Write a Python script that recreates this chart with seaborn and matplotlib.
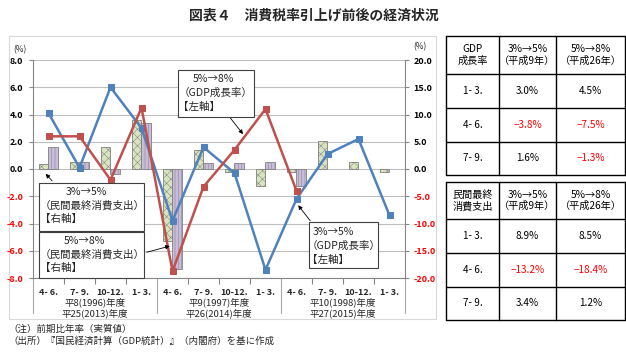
import numpy as np
import pandas as pd
import matplotlib
matplotlib.use("Agg")
import matplotlib.pyplot as plt
import seaborn as sns
from matplotlib.patches import Rectangle
from matplotlib.lines import Line2D
import matplotlib.transforms as mtransforms

# ---------------- data ----------------
quarters = ["4- 6.", "7- 9.", "10-12.", "1- 3."] * 3
group_top = ["平8(1996)年度", "平9(1997)年度", "平10(1998)年度"]
group_bottom = ["平25(2013)年度", "平26(2014)年度", "平27(2015)年度"]

# GDP growth (left axis, %)
gdp_3to5 = [4.1, 0.1, 6.0, 3.0, -3.8, 1.6, -0.3, -7.4, -2.2, 1.1, 2.2, -3.4]
gdp_5to8 = [2.4, 2.4, -0.8, 4.5, -7.5, -1.3, 1.4, 4.4, -1.6]
# Private final consumption (right axis, %)
cons_3to5 = [0.9, 1.3, 4.1, 8.9, -13.2, 3.4, -0.6, -3.1, -0.6, 5.1, 1.2, -0.6]
cons_5to8 = [4.0, 1.3, -0.9, 8.5, -18.4, 1.1, 1.1, 1.3, -3.2]

left_ticks = [-8.0, -6.0, -4.0, -2.0, 0.0, 2.0, 4.0, 6.0, 8.0]
right_ticks = [-20.0, -15.0, -10.0, -5.0, 0.0, 5.0, 10.0, 15.0, 20.0]

table_gdp_header = ["GDP\n成長率", "3%→5%\n（平成9年）", "5%→8%\n（平成26年）"]
table_gdp_rows = [["1- 3.", "3.0%", "4.5%"],
                  ["4- 6.", "−3.8%", "−7.5%"],
                  ["7- 9.", "1.6%", "−1.3%"]]
table_cons_header = ["民間最終\n消費支出", "3%→5%\n（平成9年）", "5%→8%\n（平成26年）"]
table_cons_rows = [["1- 3.", "8.9%", "8.5%"],
                   ["4- 6.", "−13.2%", "−18.4%"],
                   ["7- 9.", "3.4%", "1.2%"]]

BLUE = "#4F81BD"
RED = "#C0504D"
GREEN = "#D7E4BD"
PURPLE = "#C9BBDC"
AXC = "#868686"
NEG = "#FF0000"

W, H = 626, 358
sns.set_theme(style="white")
plt.rcParams['font.family'] = ['Noto Sans CJK JP', 'DejaVu Sans']
plt.rcParams['hatch.linewidth'] = 0.35

fig = plt.figure(figsize=(W / 100, H / 100), dpi=100)


def fx(x):
    return x / W


def fy(y):
    return 1 - y / H


# outer chart border
fig.add_artist(Rectangle((fx(9), fy(319)), fx(436) - fx(9), fy(36) - fy(319),
                         transform=fig.transFigure, fill=False, edgecolor="#D9D9D9", lw=0.8))

ax = fig.add_axes([fx(33), fy(278), fx(405) - fx(33), fy(60) - fy(278)])
ax2 = ax.twinx()

n = len(quarters)
pad58 = cons_5to8 + [np.nan] * (n - len(cons_5to8))
bars_df = pd.DataFrame({
    "pos": list(range(n)) * 2,
    "value": cons_3to5 + pad58,
    "series": ["c35"] * n + ["c58"] * n,
})
sns.barplot(data=bars_df, x="pos", y="value", hue="series", hue_order=["c35", "c58"],
            ax=ax2, width=0.6, palette=[GREEN, PURPLE], saturation=1,
            edgecolor="#808080", linewidth=0.6, legend=False, errorbar=None)
for cont, hatch, hc in zip(ax2.containers, ["xxxx", "|||||"], ["#8E9A7A", "#B3A4CB"]):
    for p in cont:
        p.set_hatch(hatch)
        try:
            p.set_hatchcolor(hc)
        except AttributeError:
            pass

sns.lineplot(x=np.arange(n), y=gdp_3to5, ax=ax, color=BLUE, marker="s", markersize=5,
             markeredgecolor=BLUE, linewidth=1.8)
sns.lineplot(x=np.arange(len(gdp_5to8)), y=gdp_5to8, ax=ax, color=RED, marker="s",
             markersize=5, markeredgecolor=RED, linewidth=1.8)

ax.set_zorder(ax2.get_zorder() + 1)
ax.patch.set_visible(False)

ax.set_xlim(-0.5, n - 0.5)
ax2.set_xlim(-0.5, n - 0.5)
ax.set_ylim(-8, 8)
ax2.set_ylim(-20, 20)
ax.set_xlabel("")
ax.set_ylabel("")
ax2.set_xlabel("")
ax2.set_ylabel("")

# grid on bar axis (behind bars)
ax2.set_yticks(right_ticks)
ax2.set_yticklabels([f"{v:.1f}" for v in right_ticks])
ax2.yaxis.grid(True, color="#BFBFBF", lw=0.8)
ax2.set_axisbelow(True)
ax.grid(False)
ax2.xaxis.grid(False)

ax.set_yticks(left_ticks)
ax.set_yticklabels([f"{v:.1f}" for v in left_ticks])
for lab, v in zip(ax.get_yticklabels(), left_ticks):
    lab.set_color(NEG if v < 0 else "black")
    lab.set_fontweight("bold")
for lab, v in zip(ax2.get_yticklabels(), right_ticks):
    lab.set_color(NEG if v < 0 else "black")
    lab.set_fontweight("bold")

ax.tick_params(axis="y", left=True, length=3, width=0.8, color=AXC, labelsize=6.5, pad=4)
ax2.tick_params(axis="y", right=True, length=3, width=0.8, color=AXC, labelsize=6.5, pad=3)

ax.set_xticks(range(n))
ax.set_xticklabels(quarters)
ax.tick_params(axis="x", bottom=True, which="major", length=0, labelsize=6.5, pad=7)
ax.set_xticks([i + 0.5 for i in range(n - 1) if (i + 1) % 4 != 0], minor=True)
ax.tick_params(axis="x", which="minor", bottom=True, length=4, width=0.8, color=AXC)
for lab in ax.get_xticklabels():
    lab.set_fontweight("bold")

for s in ["top", "right"]:
    ax.spines[s].set_visible(False)
for s in ["left", "bottom"]:
    ax.spines[s].set_color(AXC)
    ax.spines[s].set_linewidth(0.8)
for s in ["top", "left", "bottom"]:
    ax2.spines[s].set_visible(False)
ax2.spines["right"].set_color(AXC)
ax2.spines["right"].set_linewidth(0.8)

# group separators and labels
bt = mtransforms.blended_transform_factory(ax.transData, fig.transFigure)
for xs in [-0.5, 3.5, 7.5, 11.5]:
    ax.add_line(Line2D([xs, xs], [fy(278), fy(313)], transform=bt, color="#A6A6A6",
                       lw=0.8, clip_on=False))
for g in range(3):
    cx = g * 4 + 1.5
    ax.text(cx, fy(302), group_top[g], transform=bt, ha="center", va="center", fontsize=6.8)
    ax.text(cx, fy(313), group_bottom[g], transform=bt, ha="center", va="center", fontsize=6.8)

fig.text(fx(20), fy(50), "(%)", ha="center", va="center", fontsize=6)
fig.text(fx(420), fy(47), "(%)", ha="center", va="center", fontsize=6)

# title
fig.text(fx(314), fy(16), "図表４　消費税率引上げ前後の経済状況", ha="center", va="center",
         fontsize=10, fontweight="bold")

# annotation boxes
def box(x0, y0, x1, y1):
    fig.add_artist(Rectangle((fx(x0), fy(y1)), fx(x1) - fx(x0), fy(y0) - fy(y1),
                             transform=fig.transFigure, facecolor="white",
                             edgecolor="#404040", lw=0.8, zorder=5))


def t(x, y, s, ha="left"):
    fig.text(fx(x), fy(y), s, ha=ha, va="center", fontsize=7.6, zorder=6)


box(178, 70, 254, 117)
t(213, 79, "5%→8%", "center")
t(179, 93, "（GDP成長率）")
t(178, 107, "【左軸】")

box(39, 183, 144, 231)
t(86, 192, "3%→5%", "center")
t(40, 205, "（民間最終消費支出）")
t(40, 219, "【右軸】")

box(39, 232, 144, 278)
t(84, 241, "5%→8%", "center")
t(40, 254, "（民間最終消費支出）")
t(40, 268, "【右軸】")

box(309, 222, 378, 268)
t(333, 232, "3%→5%", "center")
t(307, 246, "（GDP成長率）")
t(307, 260, "【左軸】")

arrow = dict(arrowstyle="-|>", color="black", lw=0.6, mutation_scale=6)
ax.annotate("", xy=(6.33, 2.4), xycoords="data", xytext=(fx(228), fy(115)),
            textcoords="figure fraction", arrowprops=arrow, annotation_clip=False)
ax.annotate("", xy=(-0.15, -0.2), xycoords="data", xytext=(fx(54), fy(183)),
            textcoords="figure fraction", arrowprops=arrow, annotation_clip=False)
ax.annotate("", xy=(4.0, -14.0), xycoords=ax2.transData, xytext=(fx(144), fy(253)),
            textcoords="figure fraction", arrowprops=arrow, annotation_clip=False)
ax.annotate("", xy=(8.0, -2.5), xycoords="data", xytext=(fx(312), fy(223)),
            textcoords="figure fraction", arrowprops=arrow, annotation_clip=False)

# notes
fig.text(fx(8), fy(329), "（注）前期比年率（実質値）", ha="left", va="center", fontsize=6.8)
fig.text(fx(8), fy(341), "（出所）『国民経済計算（GDP統計）』（内閣府）を基に作成", ha="left",
         va="center", fontsize=6.8)

# tables
cols = [446, 499, 556, 625]


def table(rows_y, header, rows):
    for yy in rows_y:
        fig.add_artist(Line2D([fx(cols[0]), fx(cols[-1])], [fy(yy), fy(yy)],
                              transform=fig.transFigure, color="black", lw=1.0))
    for xx in cols:
        fig.add_artist(Line2D([fx(xx), fx(xx)], [fy(rows_y[0]), fy(rows_y[-1])],
                              transform=fig.transFigure, color="black", lw=1.0))
    all_rows = [header] + rows
    for r, row in enumerate(all_rows):
        cy = (rows_y[r] + rows_y[r + 1]) / 2
        for c, txt in enumerate(row):
            cx = (cols[c] + cols[c + 1]) / 2
            color = NEG if txt.startswith("−") else "black"
            fig.text(fx(cx), fy(cy), txt, ha="center", va="center",
                     fontsize=7.3 if r == 0 else 7.2, color=color, linespacing=1.15)


table([36, 74, 108, 142, 175], table_gdp_header, table_gdp_rows)
table([182, 219, 253, 287, 320], table_cons_header, table_cons_rows)

fig.savefig("out.png", dpi=100)
